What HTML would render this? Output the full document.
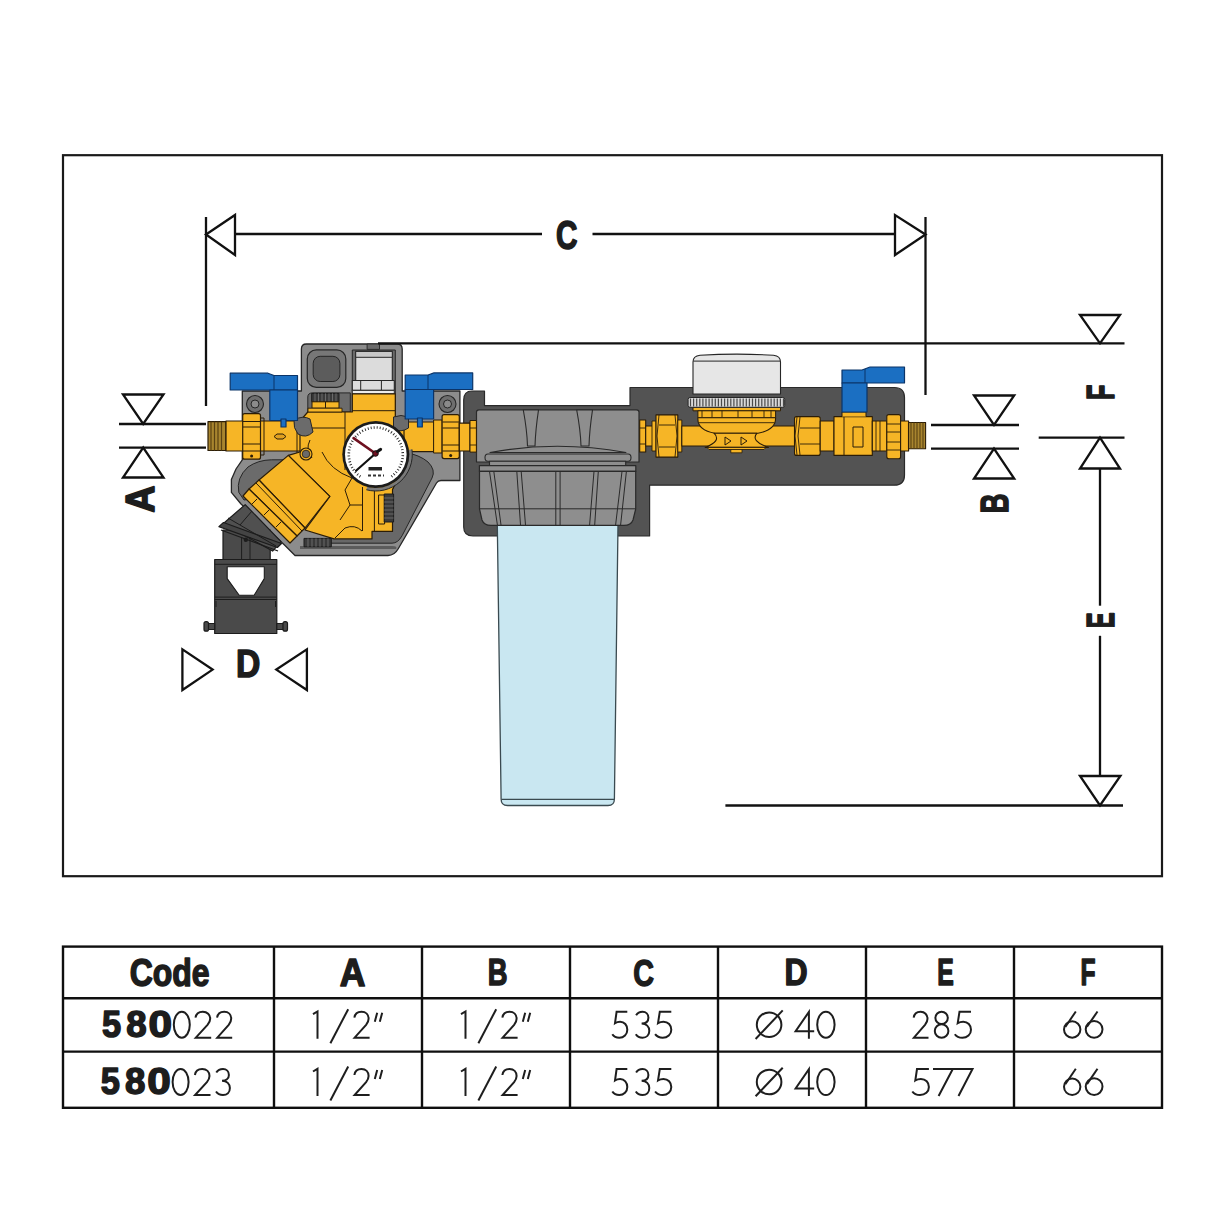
<!DOCTYPE html>
<html><head><meta charset="utf-8">
<style>
html,body{margin:0;padding:0;background:#fff;width:1214px;height:1214px;overflow:hidden}
svg{position:absolute;left:0;top:0}
.b{font-family:"Liberation Sans",sans-serif;font-weight:bold;fill:#1d1d1d}
.l{font-family:"Liberation Sans",sans-serif;font-weight:normal;fill:#2a2a2a}
</style></head><body>
<svg width="1214" height="1214" viewBox="0 0 1214 1214">
<!-- frame -->
<rect x="63" y="155.2" width="1099" height="721" fill="none" stroke="#1a1a1a" stroke-width="2.2"/>

<g id="illus" stroke-linejoin="round">
<!-- ===== right module dark shell ===== -->
<path d="M630,387.5 H894.5 Q904.5,387.5 904.5,397.5 V475 Q904.5,485.2 894.5,485.2 H649.6 V536 H473 Q463.7,536 463.7,527 V400 Q463.7,391 472,391 H484.5 V405.6 H630 Z" fill="#535353" stroke="#2a2a2a" stroke-width="1.2"/>

<!-- ===== filter bowl ===== -->
<path d="M497.3,524 H618 L614.4,799 Q614.4,805.5 608,805.5 H507.5 Q501.1,805.5 501.1,799 Z" fill="#c9e7f1" stroke="#3a4a50" stroke-width="1.3"/>
<line x1="501.5" y1="799.3" x2="614" y2="799.3" stroke="#3a4a50" stroke-width="1.3"/>

<!-- ===== filter cap ===== -->
<g stroke="#2a2a2a" stroke-width="1.1" fill="#8e8e8e">
<path d="M476.5,412 Q476.5,409.8 479,409.8 H636.5 Q639,409.8 639,412 V462 H476.5 Z" stroke-width="1.2"/>
<path d="M523.3,410 H538.5 Q535.5,430 535,446 H527.5 Q527,430 523.3,410 Z"/>
<path d="M576.7,410 H592.5 Q589.5,430 589,446 H581 Q580.5,430 576.7,410 Z"/>
<path d="M490,452.5 Q557,440 626,452.5 Z"/>
<path d="M488,454 H628 Q631,454 631,457.5 Q631,461.3 628,461.3 H488 Q485,461.3 485,457.5 Q485,454 488,454 Z"/>
<rect x="489.5" y="461.3" width="136.2" height="4.3"/>
<rect x="479.4" y="465.6" width="156.4" height="5.8" stroke-width="1.2"/>
<path d="M479.5,471.4 H635.7 V509 L633,520 Q631,525.4 624,525.4 H491 Q484,525.4 482,520 L479.5,509 Z" stroke-width="1.2"/>
</g>
<g stroke="#2a2a2a" stroke-width="1" fill="none">
<path d="M479.5,508.8 H635.7"/>
<path d="M489.5,471.4 L497.4,525 M493.8,471.4 L501,525 M516.8,471.4 L520.5,525 M521.2,471.4 L525.5,525 M555.8,471.4 V525 M560.1,471.4 V525 M594,471.4 L589.6,525 M598.3,471.4 L594.7,525 M622,471.4 L615.6,525 M626.4,471.4 L620.6,525"/>
</g>
<!-- ===== left module ===== -->
<g id="leftmod" stroke-linejoin="round">
<!-- shell silhouette -->
<path d="M301.4,349 Q301.4,344 306.4,344 H397.2 Q402.2,344 402.2,349 V391 H459.9 V480.5 H441 Q438,480.5 436.5,483 L398.4,548.5 Q394.5,555.5 388,555.5 H295 L284.5,545 L241,504 L231.4,492.4 V479.6 L236,469 L242.3,459.8 V391 H301.4 Z" fill="#8c8c8c" stroke="#262626" stroke-width="1.3"/>
<!-- dark interior under top -->
<path d="M307.8,419 V397 Q307.8,392.9 312.7,392.9 H350.3 V412 H342 V419 Z" fill="#6b6b6b" stroke="#262626" stroke-width="1"/>
<path d="M352.3,394 V350 H395.3 V419 H352.3 Z" fill="#6b6b6b" stroke="#262626" stroke-width="1"/>
<!-- notch -->
<rect x="367.1" y="344" width="12.4" height="5.4" fill="#6b6b6b" stroke="#262626" stroke-width="0.9"/>
<!-- dark interior right of gauge -->
<path d="M404,452 Q420,455 428,462 Q436,470 432,478 L402.1,535.7 Q398,543.2 392,543.2 H330 V531.4 H392.5 V489.6 L398,478 Z" fill="#686868" stroke="#262626" stroke-width="1"/>
<!-- dark left band -->
<path d="M238.8,492.4 Q236,478 248,467 Q258,460 271.5,459.8 H290 L296,466 L262,492 Q250,500 244,500 Z" fill="#6b6b6b" stroke="#262626" stroke-width="1"/>
<path d="M262,492 L296,466 L300,460 H312 L292,488 Z" fill="#5c5c5c"/>
<!-- bottom inner dark band -->
<path d="M300,546 H392 Q398,546 396,549 H300 Z" fill="#5c5c5c"/>
<!-- top square -->
<rect x="307.3" y="349.9" width="38.5" height="37.5" rx="9" fill="#777" stroke="#262626" stroke-width="1.2"/>
<rect x="313.2" y="356.3" width="26.7" height="25.2" rx="7" fill="#5c5c5c" stroke="#262626" stroke-width="1"/>
<!-- regulator cap -->
<path d="M355.7,351.4 H392.3 V380.5 H355.7 Z" fill="#dcdcdc" stroke="#262626" stroke-width="1.1"/>
<rect x="355.7" y="351.4" width="36.6" height="5.9" fill="#c8c8c8" stroke="#262626" stroke-width="1"/>
<rect x="352.3" y="380.5" width="42" height="9.9" fill="#dcdcdc" stroke="#262626" stroke-width="1.1"/>
<path d="M360.7,380.5 V390.4 M381.4,380.5 V390.4" stroke="#262626" stroke-width="1"/>
<rect x="352.3" y="390.4" width="42" height="3.5" fill="#ececec" stroke="#262626" stroke-width="0.9"/>
<!-- bracket screws -->
<circle cx="255" cy="404" r="8.5" fill="#6e6e6e" stroke="#262626" stroke-width="1.1"/>
<circle cx="255" cy="404" r="4" fill="#8a8a8a" stroke="#262626" stroke-width="1"/>
<circle cx="447.5" cy="404" r="8.5" fill="#6e6e6e" stroke="#262626" stroke-width="1.1"/>
<circle cx="447.5" cy="404" r="4" fill="#8a8a8a" stroke="#262626" stroke-width="1"/>

<!-- drain funnel -->
<g fill="#4a4a4a" stroke="#1c1c1c" stroke-width="1.2">
<path d="M223,530 H270.2 V559.5 H223 Z"/>
<path d="M223.1,523.7 L245.2,504.6 L281,541.6 L272.6,551.1 Z" fill="#505050"/>
<path d="M218.9,526.6 L223.5,522.5 L281.5,543.5 L277.4,547.5 Z" fill="#444"/>
<path d="M221,530 L278,551" fill="none"/>
<path d="M241.6,537 V559.5 M250,537 V559.5" fill="none" stroke-width="1"/>
<path d="M228,518 L276,546" fill="none" stroke-width="1"/>
<path d="M252,511 L240,525" fill="none" stroke-width="1"/>
<rect x="214.7" y="559.5" width="62.1" height="74"/>
<path d="M208,623.5 H214.7 V629.5 H208 Z"/>
<path d="M276.8,623.5 H283.5 V629.5 H276.8 Z"/>
<rect x="204" y="621.6" width="4.5" height="9.6" rx="2"/>
<rect x="283" y="621.6" width="4.5" height="9.6" rx="2"/>
</g>
<circle cx="245.8" cy="539.8" r="2.2" fill="#1c1c1c"/>
<path d="M227.2,566.7 H264.3 V578.6 L254.1,595.3 H239.2 L227.2,578.6 Z" fill="#fff" stroke="#1c1c1c" stroke-width="1.1"/>
<path d="M214.7,564.3 H276.8 M214.7,597.1 H276.8 M214.7,599.5 H276.8 M216,601 V607 M275.5,601 V607" stroke="#1c1c1c" stroke-width="1" fill="none"/>

<g stroke="#2b1d08" stroke-width="1.2">
<!-- thread end -->
<rect x="208" y="421.7" width="18" height="28.8" fill="#a8852f"/>
<path d="M211,421.7 V450.5 M214.5,421.7 V450.5 M218,421.7 V450.5 M221.5,421.7 V450.5" stroke="#5a4212" stroke-width="1.2"/>
<!-- left pipe + valve body -->
<rect x="226" y="421" width="82" height="30" fill="#f6b526"/>
<rect x="242.7" y="413.6" width="17.8" height="45.6" rx="2" fill="#f6b526"/>
<path d="M243,421.5 H260 M243,427 H260 M243,444 H260 M243,451 H260" stroke-width="1"/>
<circle cx="251.6" cy="456" r="1.5" fill="#2b1d08" stroke="none"/>
<path d="M260.5,418 H264 V455 H260.5 M297,418 V455" fill="none" stroke-width="1"/>
<path d="M277,434 H283 L286,436.5 L283,439 H277 L274,436.5 Z" fill="#e0a020" stroke-width="1"/>
<!-- main body -->
<path d="M300,421 L307.8,412 H352.3 V393.9 H395.3 V421 H405 V452 L398,478 L392.5,489.6 V531.4 H372 V538.9 H334 L305,530 L329.8,496.4 L288.3,455.4 L300,452 Z" fill="#f6b526"/>
<!-- knurled ring top-left -->
<rect x="311.7" y="393.4" width="27.3" height="8.4" fill="#3a3a3a" stroke="#1c1c1c" stroke-width="1"/>
<path d="M315,393.4 V401.8 M318.5,393.4 V401.8 M322,393.4 V401.8 M325.5,393.4 V401.8 M329,393.4 V401.8 M332.5,393.4 V401.8 M336,393.4 V401.8" stroke="#777" stroke-width="0.8"/>
<rect x="312" y="401.8" width="27" height="6.4" fill="#f6b526" stroke-width="1"/>
<line x1="325.5" y1="401.8" x2="325.5" y2="408.2" stroke-width="1"/>
<rect x="308" y="408.2" width="34" height="3.8" fill="#f6b526" stroke-width="0.9"/>
<!-- body lines -->
<path d="M307.8,428 H345 M352.3,410.7 H395.3 M345,412 V470 M310,440 Q305,450 312,458 M322,452 Q330,470 352,478 M352,478 L345,490 L350,505 L340,520 M350,505 H362 M362.5,487 V531 M374.4,487 V531 M378.6,495 V524 M335,538 L345,528 Q355,524 362,531" fill="none" stroke-width="1"/>
<circle cx="306" cy="454" r="6" fill="#f6b526" stroke-width="1.1"/>
<circle cx="306" cy="454" r="3.8" fill="#6a6a6a" stroke-width="0.8"/>
<!-- knurl under gauge -->
<rect x="378.6" y="495" width="6" height="29" fill="#f6b526" stroke-width="1"/>
<rect x="384.2" y="494" width="9.4" height="28" fill="#3a3a3a" stroke="#1c1c1c" stroke-width="1"/>
<path d="M384.2,498 H393.6 M384.2,502 H393.6 M384.2,506 H393.6 M384.2,510 H393.6 M384.2,514 H393.6 M384.2,518 H393.6" stroke="#777" stroke-width="0.8"/>
<!-- knurl bottom -->
<rect x="304" y="538.4" width="27.3" height="8.4" fill="#3a3a3a" stroke="#1c1c1c" stroke-width="1"/>
<path d="M308,538.4 V546.8 M312,538.4 V546.8 M316,538.4 V546.8 M320,538.4 V546.8 M324,538.4 V546.8 M328,538.4 V546.8" stroke="#777" stroke-width="0.8"/>
<!-- strainer -->
<path d="M288.3,455.4 L329.8,496.4 L305,528 L259,480 Z" fill="#f6b526"/>
<path d="M259,480 L305,528 L297,536 L249,489 Z" fill="#f6b526"/>
<path d="M256,483 L302,531" fill="none" stroke-width="1"/>
<path d="M249,489 L297,536 L290,543 L243,496 Z" fill="#f6b526"/>
<path d="M252,504 L257,499 M264,515 L269,510 M276,527 L281,522" fill="none" stroke-width="1"/>
<!-- right valve body -->
<rect x="404" y="422" width="30" height="29.6" fill="#f6b526"/>
<rect x="433.6" y="420" width="8.5" height="33" fill="#f6b526" stroke-width="1"/>
<rect x="442.1" y="414.6" width="17.2" height="44" rx="2" fill="#f6b526"/>
<path d="M442.5,422 H459 M442.5,428 H459 M442.5,445 H459 M442.5,451 H459" stroke-width="1"/>
<circle cx="450.7" cy="455.5" r="1.5" fill="#2b1d08" stroke="none"/>
<rect x="459.3" y="423.2" width="10.7" height="27.8" fill="#f6b526"/>
<rect x="470" y="420.5" width="6.4" height="31.6" fill="#f6b526" stroke-width="1"/>
<path d="M470,428 H476.4 M470,445 H476.4" stroke-width="0.9"/>
</g>
<!-- knuckles -->
<path d="M294,420 Q303,415 310,419 L313,432 Q306,439 298,434 Q293,428 294,420 Z" fill="#6b6b6b" stroke="#262626" stroke-width="1"/>
<path d="M393.5,417 Q401,414 408.5,417 V428 Q401,433 393.5,429 Z" fill="#6b6b6b" stroke="#262626" stroke-width="1"/>
<!-- blue handles -->
<g fill="#1b6fc2" stroke="#0b3468" stroke-width="1.2">
<path d="M230.2,373.2 H268 L274,375.5 H297.5 V390 H230.2 Z"/>
<rect x="269.8" y="390" width="27.7" height="30.5"/>
<rect x="281" y="419" width="5" height="8"/>
<path d="M405.2,375 H428 L434,372.9 H472.7 V389.5 H405.2 Z"/>
<rect x="405.2" y="389.5" width="28.4" height="29.5"/>
<rect x="417.5" y="418" width="4.8" height="9"/>
</g>
<path d="M274,375.5 V390 M428,375 V389.5" stroke="#0b3468" stroke-width="1"/>
<!-- gauge -->
<path d="M410.46,449.63 A35,35 0 0 1 366.74,488.31" fill="none" stroke="#7a7a7a" stroke-width="3"/><path d="M411.94,449.42 A36.5,36.5 0 0 1 366.35,489.76" fill="none" stroke="#262626" stroke-width="1"/>
<circle cx="375.8" cy="454.5" r="33.5" fill="#1b1b1b"/>
<circle cx="375.8" cy="454.5" r="30.8" fill="#ffffff"/>
<path d="M360.31,476.62 A27,27 0 1 1 391.29,476.62" fill="none" stroke="#222" stroke-width="2.6" stroke-dasharray="0.9 2.1"/>
<path d="M375.5,453.5 L353.6,438.1" stroke="#6e1020" stroke-width="2.6" stroke-linecap="round"/>
<path d="M375.5,453.5 L356,470.7" stroke="#111" stroke-width="2.2" stroke-linecap="round"/>
<circle cx="375.5" cy="453.5" r="2.8" fill="#6e1020" stroke="#111" stroke-width="1"/>
<path d="M377.5,451.5 L380.5,449.5" stroke="#111" stroke-width="3.2" stroke-linecap="round"/>
<rect x="368.5" y="467" width="13.5" height="3.5" fill="#222"/>
<path d="M368,475.5 H384" stroke="#333" stroke-width="2" stroke-dasharray="3 2"/>
</g>

<g id="brassR" stroke="#2b1d08" stroke-width="1.1" stroke-linejoin="round">
<!-- fittings left of meter -->
<rect x="639.7" y="420" width="6" height="32" fill="#f6b526"/>
<path d="M639.7,428 H645.7 M639.7,444 H645.7" stroke-width="0.9"/>
<rect x="645.7" y="426" width="10" height="20" fill="#f6b526"/>
<rect x="652" y="421" width="4" height="30" fill="#f6b526" stroke-width="0.9"/>
<path d="M656,414.9 H677.8 V457.1 H656 Z" fill="#f6b526"/>
<path d="M659,415 L657,436 L659,457 M675,415 L677,436 L675,457 M659,425 H675 M659,447 H675" fill="none" stroke-width="0.9"/>
<rect x="677.8" y="420" width="4" height="32" fill="#f6b526" stroke-width="0.9"/>
<!-- meter pipe -->
<rect x="681.8" y="426" width="113" height="20" fill="#f6b526"/>
<!-- meter body -->
<path d="M693,407.3 H780.5 V410.8 H693 Z" fill="#f6b526" stroke-width="1"/>
<path d="M697.9,410.8 H775.6 V417.8 H697.9 Z" fill="#f6b526" stroke-width="1"/>
<path d="M702,410.8 V417.8 M712,410.8 V417.8 M722,410.8 V417.8 M738,410.8 V417.8 M752,410.8 V417.8 M764,410.8 V417.8 M771,410.8 V417.8" fill="none" stroke-width="0.9"/>
<path d="M697.9,417.8 H775.6 Q776,430 758,433.2 H715 Q697,430 697.9,417.8 Z" fill="#f6b526"/>
<path d="M699,422.7 H774.5" fill="none" stroke-width="0.9"/>
<path d="M714,433.2 H757 Q750,441 768.5,447.4 H705.2 Q722,441 714,433.2 Z" fill="#f6b526"/>
<path d="M707,447.4 H766 L764,449.5 H709 Z" fill="#f6b526" stroke-width="0.9"/>
<path d="M725,437 L731,441 L725,445 Z M741,437 L747,441 L741,445 Z" fill="none" stroke-width="1"/>
<rect x="730.8" y="449.5" width="11.2" height="3.3" fill="#f6b526" stroke-width="0.8"/>
<!-- knurled ring -->
<rect x="688.1" y="397.5" width="96.6" height="9.8" rx="2" fill="#d9d9d9" stroke="#262626" stroke-width="1"/>
<path d="M690.5,398.5 V406.5 M693.6,398.5 V406.5 M696.7,398.5 V406.5 M699.8,398.5 V406.5 M702.9,398.5 V406.5 M706.0,398.5 V406.5 M709.1,398.5 V406.5 M712.2,398.5 V406.5 M715.3,398.5 V406.5 M718.4,398.5 V406.5 M721.5,398.5 V406.5 M724.6,398.5 V406.5 M727.7,398.5 V406.5 M730.8,398.5 V406.5 M733.9,398.5 V406.5 M737.0,398.5 V406.5 M740.1,398.5 V406.5 M743.2,398.5 V406.5 M746.3,398.5 V406.5 M749.4,398.5 V406.5 M752.5,398.5 V406.5 M755.6,398.5 V406.5 M758.7,398.5 V406.5 M761.8,398.5 V406.5 M764.9,398.5 V406.5 M768.0,398.5 V406.5 M771.1,398.5 V406.5 M774.2,398.5 V406.5 M777.3,398.5 V406.5 M780.4,398.5 V406.5 M783.5,398.5 V406.5" stroke="#4a4a4a" stroke-width="1.2"/>
<!-- white cap -->
<path d="M693,394 V362 Q693,356 700,355.3 Q737,353 773.5,355.3 Q780.5,356 780.5,362 V394 Z" fill="#e6e6e6" stroke="#262626" stroke-width="1.1"/>
<line x1="693.3" y1="361.1" x2="780.2" y2="361.1" stroke="#262626" stroke-width="1"/>
<!-- middle pipe + left nut of valve -->
<rect x="794.5" y="416.6" width="25.7" height="38.8" rx="2" fill="#f6b526"/>
<path d="M797,417 L795,436 L797,455 M800,417 L798,436 L800,455 M800,428 H820 M800,444 H820" fill="none" stroke-width="0.9"/>
<rect x="820.2" y="421" width="13.8" height="30" fill="#f6b526"/>
<!-- ball valve body -->
<path d="M834,416.6 H872.3 V455.4 H834 Z" fill="#f6b526"/>
<path d="M844,417 V455 M853,427 H863 V447 H853 Z" fill="none" stroke-width="1"/>
<path d="M842,416.6 V412 H866 V416.6" fill="#f6b526" stroke-width="1"/>
<rect x="872.3" y="421" width="14.5" height="30" fill="#f6b526"/>
<path d="M876,421 V451 M880,421 V451" stroke-width="0.9" fill="none"/>
<rect x="886.8" y="414.6" width="13.8" height="44.1" rx="2" fill="#f6b526"/>
<path d="M887,424 H900 M887,432 H900 M887,442 H900 M887,450 H900" stroke-width="0.9"/>
<rect x="900.6" y="421" width="8" height="30" fill="#f6b526"/>
<!-- threads -->
<rect x="908.5" y="422.5" width="17.1" height="26.3" fill="#a8852f"/>
<path d="M911,422.5 V448.8 M914,422.5 V448.8 M917,422.5 V448.8 M920,422.5 V448.8 M923,422.5 V448.8" stroke="#5a4212" stroke-width="1.1"/>
<!-- blue handle -->
<g fill="#1b6fc2" stroke="#0b3468" stroke-width="1.2">
<path d="M842,370 H862 L870,367 H904.5 V383 H842 Z"/>
<rect x="842" y="383" width="25" height="29"/>
</g>
<path d="M865,369 V383" stroke="#0b3468" stroke-width="1"/>
</g>


</g>

<!-- dimension lines -->
<g fill="none" stroke="#111" stroke-width="2.3" stroke-linejoin="miter">
  <!-- C -->
  <line x1="206" y1="217" x2="206" y2="406"/>
  <line x1="925.5" y1="217" x2="925.5" y2="395"/>
  <polygon points="206,234.5 235,215 235,255"/>
  <polygon points="925.5,234.5 895,215 895,255"/>
  <line x1="235" y1="234" x2="542" y2="234"/>
  <line x1="592.5" y1="234" x2="895" y2="234"/>
  <!-- A -->
  <line x1="119" y1="424" x2="206" y2="424"/>
  <line x1="119" y1="447.6" x2="206" y2="447.6"/>
  <polygon points="123,394.5 163.5,394.5 143.2,424"/>
  <polygon points="123,477.5 163.5,477.5 143.2,447.6"/>
  <!-- B -->
  <line x1="931" y1="425" x2="1019" y2="425"/>
  <line x1="931" y1="448.6" x2="1019" y2="448.6"/>
  <polygon points="974,395.5 1014.2,395.5 994,425"/>
  <polygon points="974,478.5 1014.2,478.5 994,448.6"/>
  <!-- F -->
  <line x1="378" y1="343.3" x2="1124.5" y2="343.3"/>
  <polygon points="1080,315 1120,315 1100,343.3"/>
  <line x1="1038.7" y1="437.7" x2="1124.5" y2="437.7"/>
  <polygon points="1080,468.5 1120,468.5 1100,437.7"/>
  <!-- E -->
  <line x1="1100" y1="468.5" x2="1100" y2="605.7"/>
  <line x1="1100" y1="635.8" x2="1100" y2="776"/>
  <polygon points="1080,776 1120.4,776 1100,805.5"/>
  <line x1="725.4" y1="805.5" x2="1123" y2="805.5"/>
  <!-- D -->
  <polygon points="182.4,649.3 182.4,690 212.6,669.6"/>
  <polygon points="306.9,649.3 306.9,690 276.3,669.6"/>
</g>

<!--BOLD--><g id="boldtext">
<text class="b" font-size="100" stroke="#1d1d1d" stroke-width="4" stroke-linejoin="round" transform="matrix(0.3194,0.0000,0.0000,0.3936,129.7611,985.8192)">Code</text>
<text class="b" font-size="100" stroke="#1d1d1d" stroke-width="4" stroke-linejoin="round" transform="matrix(0.3557,0.0000,0.0000,0.3875,339.8443,985.8125)">A</text>
<text class="b" font-size="100" stroke="#1d1d1d" stroke-width="4" stroke-linejoin="round" transform="matrix(0.2738,0.0000,0.0000,0.3726,487.6308,985.4548)">B</text>
<text class="b" font-size="100" stroke="#1d1d1d" stroke-width="4" stroke-linejoin="round" transform="matrix(0.2870,0.0000,0.0000,0.3773,633.2261,985.6680)">C</text>
<text class="b" font-size="100" stroke="#1d1d1d" stroke-width="4" stroke-linejoin="round" transform="matrix(0.3200,0.0000,0.0000,0.3726,784.5000,985.4548)">D</text>
<text class="b" font-size="100" stroke="#1d1d1d" stroke-width="4" stroke-linejoin="round" transform="matrix(0.2483,0.0000,0.0000,0.3726,937.2583,985.4548)">E</text>
<text class="b" font-size="100" stroke="#1d1d1d" stroke-width="4" stroke-linejoin="round" transform="matrix(0.2463,0.0000,0.0000,0.3726,1080.5685,985.4548)">F</text>
<text class="b" font-size="100" stroke="#1d1d1d" stroke-width="4" stroke-linejoin="round" transform="matrix(0.3444,0.0000,0.0000,0.3784,102.0556,1037.3649)">5</text>
<text class="b" font-size="100" stroke="#1d1d1d" stroke-width="4" stroke-linejoin="round" transform="matrix(0.3667,0.0000,0.0000,0.3733,126.1333,1037.3800)">8</text>
<text class="b" font-size="100" stroke="#1d1d1d" stroke-width="4" stroke-linejoin="round" transform="matrix(0.4235,0.0000,0.0000,0.3733,148.5529,1037.3800)">0</text>
<text class="b" font-size="100" stroke="#1d1d1d" stroke-width="4" stroke-linejoin="round" transform="matrix(0.3444,0.0000,0.0000,0.3784,100.8556,1094.1649)">5</text>
<text class="b" font-size="100" stroke="#1d1d1d" stroke-width="4" stroke-linejoin="round" transform="matrix(0.3667,0.0000,0.0000,0.3733,124.9333,1094.1800)">8</text>
<text class="b" font-size="100" stroke="#1d1d1d" stroke-width="4" stroke-linejoin="round" transform="matrix(0.4235,0.0000,0.0000,0.3733,147.3529,1094.1800)">0</text>
<text class="b" font-size="100" stroke="#1d1d1d" stroke-width="4" stroke-linejoin="round" transform="matrix(0.2971,0.0000,0.0000,0.4053,556.1058,248.5840)">C</text>
<text class="b" font-size="100" stroke="#1d1d1d" stroke-width="4" stroke-linejoin="round" transform="matrix(0.3369,0.0000,0.0000,0.3849,236.0154,676.9301)">D</text>
<text class="b" font-size="100" stroke="#1d1d1d" stroke-width="4" stroke-linejoin="round" transform="matrix(0.0000,-0.3771,0.4111,0.0000,154.2889,512.7771)">A</text>
<text class="b" font-size="100" stroke="#1d1d1d" stroke-width="4" stroke-linejoin="round" transform="matrix(0.0000,-0.2738,0.3945,0.0000,1007.9110,513.3692)">B</text>
<text class="b" font-size="100" stroke="#1d1d1d" stroke-width="4" stroke-linejoin="round" transform="matrix(0.0000,-0.2519,0.3945,0.0000,1113.7110,399.9593)">F</text>
<text class="b" font-size="100" stroke="#1d1d1d" stroke-width="4" stroke-linejoin="round" transform="matrix(0.0000,-0.2400,0.3945,0.0000,1113.9110,628.3000)">E</text>
</g><!--/BOLD-->
<!-- table -->
<g fill="none" stroke="#0f0f0f" stroke-width="2.4">
  <rect x="63" y="946.6" width="1099" height="161.2"/>
  <line x1="63" y1="998.2" x2="1162" y2="998.2"/>
  <line x1="63" y1="1051.6" x2="1162" y2="1051.6"/>
  <line x1="274" y1="946.6" x2="274" y2="1107.8"/>
  <line x1="422" y1="946.6" x2="422" y2="1107.8"/>
  <line x1="570" y1="946.6" x2="570" y2="1107.8"/>
  <line x1="718" y1="946.6" x2="718" y2="1107.8"/>
  <line x1="866" y1="946.6" x2="866" y2="1107.8"/>
  <line x1="1014" y1="946.6" x2="1014" y2="1107.8"/>
</g>


<!--LIGHT--><g fill="none" stroke="#1e1e1e" stroke-width="2" stroke-linecap="butt">
<ellipse cx="181.8" cy="1024.7" rx="8.0" ry="13.0"/>
<path d="M195.5,1017.7 C196.1,1013.5 199.2,1011.7 202.8,1011.7 C207.2,1011.7 210.2,1014.7 210.2,1018.7 C210.2,1021.2 209.1,1023.0 207.5,1024.9 L195.8,1037.7 H211.2"/>
<path d="M217.1,1017.7 C217.6,1013.5 220.6,1011.7 224.2,1011.7 C228.4,1011.7 231.2,1014.7 231.2,1018.7 C231.2,1021.2 230.2,1023.0 228.7,1024.9 L217.3,1037.7 H232.2"/>
<ellipse cx="180.6" cy="1082.0" rx="8.0" ry="13.0"/>
<path d="M194.9,1075.0 C195.5,1070.8 198.6,1069.0 202.2,1069.0 C206.6,1069.0 209.5,1072.0 209.5,1076.0 C209.5,1078.5 208.4,1080.3 206.9,1082.2 L195.1,1095.0 H210.5"/>
<path d="M216.3,1072.5 C218.0,1069.8 220.5,1069.0 223.0,1069.0 C226.4,1069.0 228.9,1071.5 228.9,1075.0 C228.9,1078.8 225.9,1080.8 222.0,1080.8 C226.9,1080.8 229.9,1084.0 229.9,1088.0 C229.9,1092.5 226.9,1095.0 223.0,1095.0 C220.0,1095.0 217.5,1093.8 216.0,1091.5"/>
<path d="M313.0,1014.2 L317.5,1011.5 V1038.7"/>
<path d="M330.4,1043.2 L348.2,1009.2"/>
<path d="M354.4,1017.7 C354.9,1013.5 358.0,1011.7 361.5,1011.7 C365.8,1011.7 368.6,1014.7 368.6,1018.7 C368.6,1021.2 367.6,1023.0 366.1,1024.9 L354.6,1037.7 H369.6"/>
<path d="M374.8,1021.7 L377.2,1012.7 M379.8,1021.7 L382.2,1012.7"/>
<path d="M313.0,1071.5 L317.5,1068.8 V1096.0"/>
<path d="M330.4,1100.5 L348.2,1066.5"/>
<path d="M354.4,1075.0 C354.9,1070.8 358.0,1069.0 361.5,1069.0 C365.8,1069.0 368.6,1072.0 368.6,1076.0 C368.6,1078.5 367.6,1080.3 366.1,1082.2 L354.6,1095.0 H369.6"/>
<path d="M374.8,1079.0 L377.2,1070.0 M379.8,1079.0 L382.2,1070.0"/>
<path d="M461.0,1014.2 L465.5,1011.5 V1038.7"/>
<path d="M478.4,1043.2 L496.2,1009.2"/>
<path d="M502.4,1017.7 C502.9,1013.5 506.0,1011.7 509.5,1011.7 C513.8,1011.7 516.6,1014.7 516.6,1018.7 C516.6,1021.2 515.6,1023.0 514.1,1024.9 L502.6,1037.7 H517.6"/>
<path d="M522.8,1021.7 L525.2,1012.7 M527.8,1021.7 L530.2,1012.7"/>
<path d="M461.0,1071.5 L465.5,1068.8 V1096.0"/>
<path d="M478.4,1100.5 L496.2,1066.5"/>
<path d="M502.4,1075.0 C502.9,1070.8 506.0,1069.0 509.5,1069.0 C513.8,1069.0 516.6,1072.0 516.6,1076.0 C516.6,1078.5 515.6,1080.3 514.1,1082.2 L502.6,1095.0 H517.6"/>
<path d="M522.8,1079.0 L525.2,1070.0 M527.8,1079.0 L530.2,1070.0"/>
<path d="M627.3,1011.7 H616.6 L615.0,1023.2 C616.6,1022.1 618.3,1021.7 620.1,1021.7 C624.4,1021.7 627.3,1025.2 627.3,1029.7 C627.3,1034.4 623.8,1037.7 619.3,1037.7 C616.3,1037.7 613.8,1036.5 612.3,1034.2"/>
<path d="M636.1,1015.2 C637.7,1012.5 640.1,1011.7 642.6,1011.7 C645.9,1011.7 648.4,1014.2 648.4,1017.7 C648.4,1021.5 645.5,1023.5 641.6,1023.5 C646.4,1023.5 649.3,1026.7 649.3,1030.7 C649.3,1035.2 646.4,1037.7 642.6,1037.7 C639.7,1037.7 637.2,1036.5 635.8,1034.2"/>
<path d="M671.3,1011.7 H659.8 L658.0,1023.2 C659.8,1022.1 661.6,1021.7 663.5,1021.7 C668.1,1021.7 671.3,1025.2 671.3,1029.7 C671.3,1034.4 667.5,1037.7 662.7,1037.7 C659.4,1037.7 656.8,1036.5 655.1,1034.2"/>
<path d="M627.3,1069.0 H616.6 L615.0,1080.5 C616.6,1079.4 618.3,1079.0 620.1,1079.0 C624.4,1079.0 627.3,1082.5 627.3,1087.0 C627.3,1091.7 623.8,1095.0 619.3,1095.0 C616.3,1095.0 613.8,1093.8 612.3,1091.5"/>
<path d="M636.1,1072.5 C637.7,1069.8 640.1,1069.0 642.6,1069.0 C645.9,1069.0 648.4,1071.5 648.4,1075.0 C648.4,1078.8 645.5,1080.8 641.6,1080.8 C646.4,1080.8 649.3,1084.0 649.3,1088.0 C649.3,1092.5 646.4,1095.0 642.6,1095.0 C639.7,1095.0 637.2,1093.8 635.8,1091.5"/>
<path d="M671.3,1069.0 H659.8 L658.0,1080.5 C659.8,1079.4 661.6,1079.0 663.5,1079.0 C668.1,1079.0 671.3,1082.5 671.3,1087.0 C671.3,1091.7 667.5,1095.0 662.7,1095.0 C659.4,1095.0 656.8,1093.8 655.1,1091.5"/>
<circle cx="769.1" cy="1024.7" r="12.3"/><path d="M755.6,1039.0 L782.7,1010.4"/>
<path d="M808.9,1038.7 V1011.9 L795.6,1031.2 H814.2"/>
<ellipse cx="825.9" cy="1024.7" rx="8.7" ry="13.0"/>
<circle cx="769.1" cy="1082.0" r="12.3"/><path d="M755.6,1096.3 L782.7,1067.7"/>
<path d="M808.9,1096.0 V1069.2 L795.6,1088.5 H814.2"/>
<ellipse cx="825.9" cy="1082.0" rx="8.7" ry="13.0"/>
<path d="M913.7,1017.7 C914.2,1013.5 917.1,1011.7 920.6,1011.7 C924.7,1011.7 927.5,1014.7 927.5,1018.7 C927.5,1021.2 926.5,1023.0 925.0,1024.9 L913.9,1037.7 H928.5"/>
<circle cx="941.6" cy="1017.9" r="6.2"/><circle cx="941.6" cy="1031.0" r="6.8"/>
<path d="M971.0,1011.7 H959.5 L957.7,1023.2 C959.5,1022.1 961.3,1021.7 963.2,1021.7 C967.8,1021.7 971.0,1025.2 971.0,1029.7 C971.0,1034.4 967.2,1037.7 962.4,1037.7 C959.1,1037.7 956.4,1036.5 954.8,1034.2"/>
<path d="M928.9,1069.0 H917.0 L915.3,1080.5 C917.0,1079.4 918.9,1079.0 920.9,1079.0 C925.7,1079.0 928.9,1082.5 928.9,1087.0 C928.9,1091.7 925.1,1095.0 920.0,1095.0 C916.7,1095.0 913.9,1093.8 912.3,1091.5"/>
<path d="M933.0,1069.0 H952.8 L938.6,1096.0"/>
<path d="M953.0,1069.0 H972.5 L958.5,1096.0"/>
<path d="M1075.8,1011.5 L1065.3,1027.0"/><circle cx="1072.2" cy="1029.5" r="8.2"/>
<path d="M1097.5,1011.5 L1087.0,1026.8"/><circle cx="1094.1" cy="1029.3" r="8.4"/>
<path d="M1075.8,1068.8 L1065.3,1084.3"/><circle cx="1072.2" cy="1086.8" r="8.2"/>
<path d="M1097.5,1068.8 L1087.0,1084.1"/><circle cx="1094.1" cy="1086.6" r="8.4"/>
</g><!--/LIGHT-->
</svg>
</body></html>
